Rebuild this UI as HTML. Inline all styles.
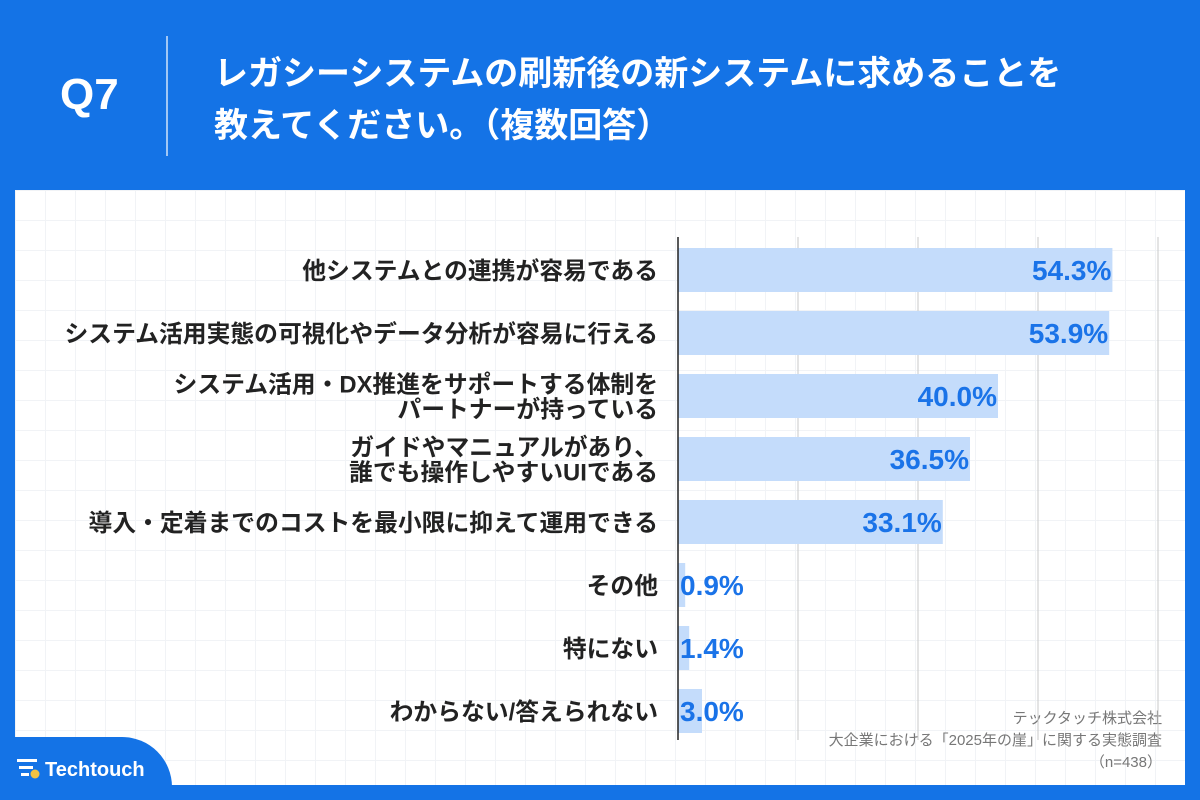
<!DOCTYPE html>
<html><head><meta charset="utf-8">
<style>
*{margin:0;padding:0;box-sizing:border-box}
body{width:1200px;height:800px;background:#1473e6;position:relative;overflow:hidden;font-family:"Liberation Sans","Noto Sans CJK JP",sans-serif}
#q{position:absolute;left:60px;top:70px;font-size:44px;font-weight:bold;color:#fff}
#sep{position:absolute;left:166px;top:36px;width:2px;height:120px;background:rgba(255,255,255,.6)}
#title{position:absolute;left:214px;top:48px;font-size:34px;font-weight:bold;color:#fff;line-height:52px}
#panel{position:absolute;left:15px;top:190px;width:1170px;height:595px;background-color:#fff;background-image:linear-gradient(#f1f3f6 1px,transparent 1px),linear-gradient(90deg,#f1f3f6 1px,transparent 1px);background-size:30px 30px}
#tab{position:absolute;left:0;top:737px;width:172px;height:63px;background:#1473e6;border-top-right-radius:50px}
#logo{position:absolute;left:17px;top:757px;color:#fff;font-weight:bold;font-size:20px}
#src{position:absolute;right:38px;top:708px;text-align:right;font-size:15px;color:#777;line-height:22px}
svg{position:absolute;left:0;top:0}
</style></head><body>
<div id="q">Q7</div>
<div id="sep"></div>
<div id="title">レガシーシステムの刷新後の新システムに求めることを<br>教えてください。（複数回答）</div>
<div id="panel"></div>
<div id="tab"></div>
<div id="logo"><svg width="24" height="22" style="position:relative;display:inline-block;vertical-align:-3px;margin-right:4px"><rect x="0" y="2" width="20" height="3" fill="#fff"/><rect x="2" y="9" width="14" height="3" fill="#fff"/><rect x="4" y="16" width="8" height="3" fill="#fff"/><circle cx="18" cy="17" r="4.5" fill="#f5c342"/></svg>Techtouch</div>
<div id="src">テックタッチ株式会社<br>大企業における「2025年の崖」に関する実態調査<br>（n=438）</div>
<svg id="chart" width="1200" height="800"></svg>
<script>
const categories=[["他システムとの連携が容易である"],["システム活用実態の可視化やデータ分析が容易に行える"],["システム活用・DX推進をサポートする体制を","パートナーが持っている"],["ガイドやマニュアルがあり、","誰でも操作しやすいUIである"],["導入・定着までのコストを最小限に抑えて運用できる"],["その他"],["特にない"],["わからない/答えられない"]];
const values=[54.3,53.9,40.0,36.5,33.1,0.9,1.4,3.0];
const ticks=[0,15,30,45,60];
const NS="http://www.w3.org/2000/svg";
const svg=document.getElementById('chart');
const x0=678,pxPer=8.0,y0=270,step=63,bh=44;
const xs=v=>x0+v*pxPer, ys=i=>y0+i*step;
function mk(t,a){const e=document.createElementNS(NS,t);for(const k in a)e.setAttribute(k,a[k]);svg.appendChild(e);return e;}
ticks.slice(1).forEach(t=>{const l=mk('line',{x1:xs(t),x2:xs(t),y1:237,y2:740,stroke:'#c8c8c8','stroke-width':1});

});
values.forEach((v,i)=>{
 const r=mk('rect',{x:x0,y:ys(i)-bh/2,width:v*pxPer,height:bh,fill:'#c4dcfb'});
 
 
 const big=v>10;
 const t=mk('text',{x:big?xs(v)-1:x0+2,y:ys(i)+10,'text-anchor':big?'end':'start','font-size':28,'font-weight':'bold',fill:'#1a73e8','font-family':'Liberation Sans, sans-serif'});
 t.textContent=v.toFixed(1)+'%';
 
 
 const c=categories[i];
 const t2=mk('text',{'text-anchor':'end','font-size':23.8,'font-weight':'bold',fill:'#222','font-family':'Liberation Sans, Noto Sans CJK JP, sans-serif'});
 
 
 c.forEach((s,j)=>{const ts=document.createElementNS(NS,'tspan');ts.setAttribute('x',658);ts.setAttribute('y',ys(i)+9+(j-(c.length-1)/2)*25);ts.textContent=s;t2.appendChild(ts);});
});
const ax=mk('line',{x1:x0,x2:x0,y1:237,y2:740,stroke:'#222','stroke-width':1.5});


</script>
</body></html>
